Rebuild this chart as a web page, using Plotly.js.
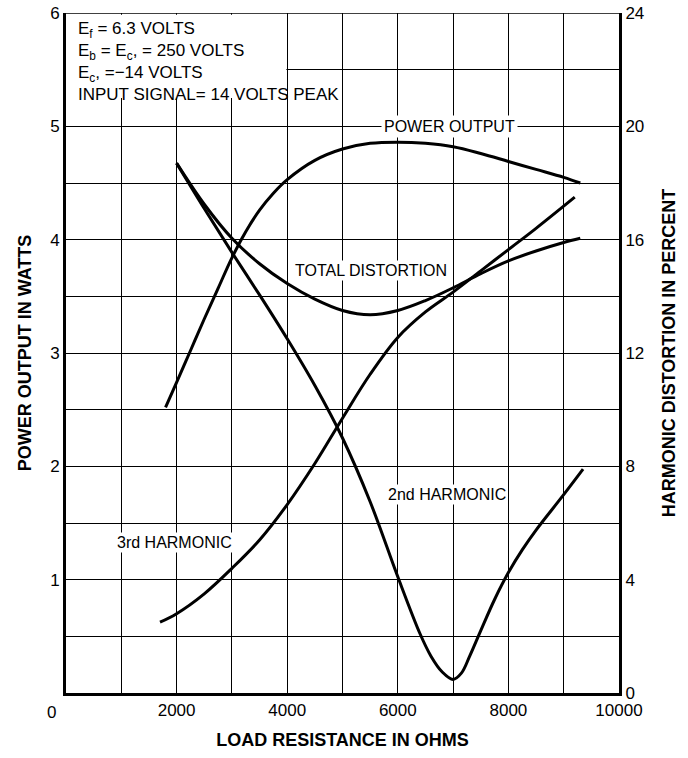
<!DOCTYPE html>
<html>
<head>
<meta charset="utf-8">
<script src="https://cdn.plot.ly/plotly-3.0.1.min.js"></script>
<style>
  html, body { margin: 0; padding: 0; background: #fff; }
  #chart { width: 688px; height: 758px; }
</style>
</head>
<body>
<div id="chart"></div>
<script>
// Load resistance (ohms) and curve values
var powerX = [1800, 2000, 2250, 2500, 2750, 3000, 3250, 3500, 3750, 4000, 4500, 5000, 5500, 6000, 6500, 7000, 7500, 8000, 8500, 9000, 9300];
var powerW = [2.52, 2.74, 3.02, 3.30, 3.57, 3.84, 4.07, 4.26, 4.41, 4.53, 4.70, 4.80, 4.85, 4.86, 4.85, 4.82, 4.76, 4.69, 4.62, 4.55, 4.50];

var totalX = [2000, 2500, 3000, 3500, 4000, 4500, 5000, 5500, 6000, 6500, 7000, 7500, 8000, 8500, 9000, 9300];
var totalPct = [18.7, 17.25, 16.05, 15.15, 14.45, 13.9, 13.5, 13.35, 13.5, 13.85, 14.3, 14.8, 15.25, 15.6, 15.9, 16.05];

var h2X = [2000, 2500, 3000, 3500, 4000, 4500, 5000, 5500, 6000, 6400, 6600, 6800, 7000, 7150, 7300, 7500, 7750, 8000, 8250, 8500, 9000, 9350];
var h2Pct = [18.7, 17.1, 15.55, 14.05, 12.5, 10.85, 9.0, 6.75, 4.1, 2.1, 1.3, 0.75, 0.48, 0.7, 1.3, 2.2, 3.3, 4.25, 5.05, 5.75, 7.0, 7.9];

var h3X = [1700, 2000, 2500, 3000, 3500, 4000, 4500, 5000, 5500, 6000, 6500, 7000, 7500, 8000, 8500, 9200];
var h3Pct = [2.5, 2.8, 3.5, 4.4, 5.4, 6.65, 8.1, 9.7, 11.25, 12.55, 13.45, 14.15, 14.9, 15.65, 16.4, 17.5];

var xGridVals = [0, 1000, 2000, 3000, 4000, 5000, 6000, 7000, 8000, 9000, 10000];
var xTickText = ['', '', '2000', '', '4000', '', '6000', '', '8000', '', '10000'];
var xOriginLabel = '0';
var yGridVals = [0, 0.5, 1, 1.5, 2, 2.5, 3, 3.5, 4, 4.5, 5, 5.5, 6];
var yTickText = ['', '', '1', '', '2', '', '3', '', '4', '', '5', '', '6'];
var y2TickVals = [0, 4, 8, 12, 16, 20, 24];
var y2TickText = ['0', '4', '8', '12', '16', '20', '24'];

var conditionsText = 'E<sub>f</sub> = 6.3 VOLTS<br>E<sub>b</sub> = E<sub>c</sub>, = 250 VOLTS<br>E<sub>c</sub>, =\u221214 VOLTS<br>INPUT SIGNAL= 14 VOLTS PEAK';

var FONT = 'Liberation Sans, Arial, sans-serif';
var lineStyle = {color: '#000', width: 3, shape: 'spline', smoothing: 1.0};

var traces = [
  {x: powerX, y: powerW, yaxis: 'y', mode: 'lines', line: lineStyle, hoverinfo: 'skip'},
  {x: totalX, y: totalPct, yaxis: 'y2', mode: 'lines', line: lineStyle, hoverinfo: 'skip'},
  {x: h2X, y: h2Pct, yaxis: 'y2', mode: 'lines', line: lineStyle, hoverinfo: 'skip'},
  {x: h3X, y: h3Pct, yaxis: 'y2', mode: 'lines', line: lineStyle, hoverinfo: 'skip'}
];

var layout = {
  width: 688, height: 758,
  margin: {l: 66, r: 69, t: 13, b: 65, pad: 0},
  paper_bgcolor: '#fff', plot_bgcolor: '#fff',
  showlegend: false,
  font: {family: FONT, size: 17, color: '#000'},
  xaxis: {
    range: [0, 10000], tickmode: 'array', tickvals: xGridVals, ticktext: xTickText,
    showgrid: true, gridcolor: '#000', gridwidth: 1,
    showline: true, linecolor: '#000', linewidth: 3, mirror: false,
    zeroline: false, ticks: '', tickfont: {family: FONT, size: 17},
    title: {text: 'LOAD RESISTANCE IN OHMS', font: {family: FONT, size: 18, weight: 'bold'}, standoff: 14},
    fixedrange: true
  },
  yaxis: {
    range: [0, 6], tickmode: 'array', tickvals: yGridVals, ticktext: yTickText,
    showgrid: true, gridcolor: '#000', gridwidth: 1,
    showline: true, linecolor: '#000', linewidth: 3,
    zeroline: false, ticks: '', tickfont: {family: FONT, size: 17},
    title: {text: 'POWER OUTPUT IN WATTS', font: {family: FONT, size: 18, weight: 'bold'}, standoff: 14},
    fixedrange: true
  },
  yaxis2: {
    overlaying: 'y', side: 'right', range: [0, 24],
    tickmode: 'array', tickvals: y2TickVals, ticktext: y2TickText,
    showgrid: false, zeroline: false,
    showline: true, linecolor: '#000', linewidth: 3,
    ticks: '', tickfont: {family: FONT, size: 17},
    title: {text: 'HARMONIC DISTORTION IN PERCENT', font: {family: FONT, size: 18, weight: 'bold'}, standoff: 20},
    fixedrange: true
  },
  shapes: [
    {type: 'rect', xref: 'x', yref: 'y', x0: 0, x1: 3985, y0: 5.25, y1: 5.985,
     fillcolor: '#fff', line: {width: 0}, layer: 'between'},
    {type: 'line', xref: 'x', yref: 'y', x0: 0, x1: 10000, y0: 6, y1: 6,
     line: {color: '#000', width: 1.5}, layer: 'above'}
  ],
  annotations: [
    {xref: 'x', yref: 'paper', x: 0, y: 0, xanchor: 'center', yanchor: 'top', xshift: -15, yshift: -8,
     text: xOriginLabel, showarrow: false, font: {family: FONT, size: 17}},
    {xref: 'x', yref: 'y', x: 0, y: 6, xanchor: 'left', yanchor: 'top', xshift: 10, yshift: -4,
     text: conditionsText, showarrow: false, align: 'left', font: {family: FONT, size: 17}},
    {xref: 'x', yref: 'y', x: 6930, y: 5.0, text: 'POWER OUTPUT', showarrow: false,
     bgcolor: '#fff', borderpad: 2, font: {family: FONT, size: 16}},
    {xref: 'x', yref: 'y2', x: 5515, y: 14.9, text: 'TOTAL DISTORTION', showarrow: false,
     bgcolor: '#fff', borderpad: 1, font: {family: FONT, size: 16}},
    {xref: 'x', yref: 'y2', x: 6890, y: 7.0, text: '2nd HARMONIC', showarrow: false,
     bgcolor: '#fff', borderpad: 1, font: {family: FONT, size: 16}},
    {xref: 'x', yref: 'y2', x: 1970, y: 5.3, text: '3rd HARMONIC', showarrow: false,
     bgcolor: '#fff', borderpad: 1, font: {family: FONT, size: 16}}
  ]
};

Plotly.newPlot('chart', traces, layout, {staticPlot: true, displayModeBar: false});
</script>
</body>
</html>
